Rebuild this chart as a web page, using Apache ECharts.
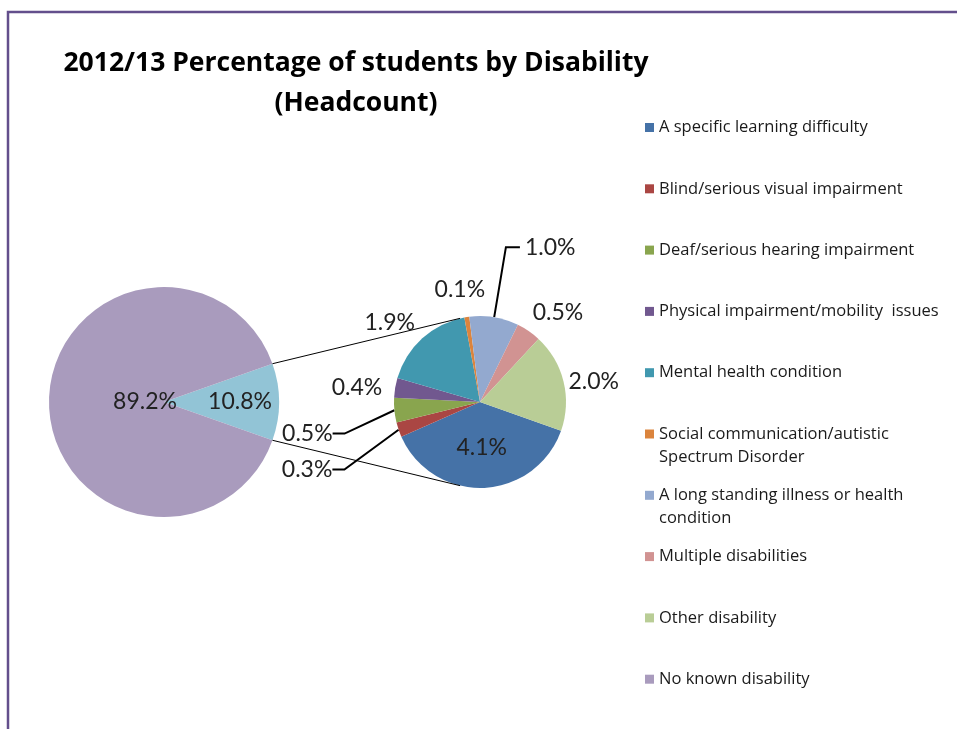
<!DOCTYPE html>
<html>
<head>
<meta charset="utf-8">
<script src="https://cdn.jsdelivr.net/npm/echarts@6/dist/echarts.min.js"></script>
<style>
  html, body { margin: 0; padding: 0; background: #ffffff; }
  #chart { width: 957px; height: 729px; }
</style>
</head>
<body>
<div id="chart"></div>
<script>
// ---- data ----
const titleLines = ['2012/13 Percentage of students by Disability', '(Headcount)'];
const categories = [
  'A specific learning difficulty',
  'Blind/serious visual impairment',
  'Deaf/serious hearing impairment',
  'Physical impairment/mobility  issues',
  'Mental health condition',
  'Social communication/autistic Spectrum Disorder',
  'A long standing illness or health condition',
  'Multiple disabilities',
  'Other disability'
];
const values = [4.1, 0.3, 0.5, 0.4, 1.9, 0.1, 1.0, 0.5, 2.0];
const noDisabilityName = 'No known disability';
const noDisabilityValue = 89.2;
const disabledTotalName = 'All disabilities';
const disabledTotalValue = 10.8;

// ---- styles ----
const colors = ['#4572A7', '#AA4643', '#89A54E', '#71588F', '#4198AF', '#DB843D', '#93A9CF', '#D19392', '#B9CD96'];
const noDisabilityColor = '#A99BBD';
const disabledTotalColor = '#92C4D6';
const legendWrap = {
  'Social communication/autistic Spectrum Disorder': 'Social communication/autistic\nSpectrum Disorder',
  'A long standing illness or health condition': 'A long standing illness or health\ncondition'
};
// per-slice label placement of the secondary pie (style only)
const secondLabelStyle = [
  { position: 'inside', padding: [20, 0, 0, 0] },
  { line: true, length: 52, length2: 12, dy: 23 },
  { line: true, length: 45, length2: 12, dy: 19 },
  { line: false, length: 0, length2: 8 },
  { line: false, length: 20.6, length2: -11.5 },
  { line: false, length: 27.4, length2: -27.5 },
  { line: true, length: 71, length2: 14 },
  { line: false, length: 23, length2: -14 },
  { line: false, length: 0, length2: 0 }
];

const FONT = 'Lato, "Open Sans", sans-serif';
const LEGEND_FONT = '"Open Sans", Lato, sans-serif';
const TITLE_FONT = '"Open Sans", Lato, sans-serif';
const cx1 = 164, cy1 = 402, r1 = 115;
const cx2 = 480, cy2 = 402, r2 = 86;
const startAngle2 = -19.5;
const connectorAngle = 103.4;

const pct = v => v.toFixed(1) + '%';

const secondData = categories.map((name, i) => {
  const s = secondLabelStyle[i];
  const item = { name: name, value: values[i], itemStyle: { color: colors[i] } };
  if (s.position === 'inside') {
    item.label = { position: 'inside', padding: s.padding };
    item.labelLine = { show: false };
  } else {
    item.label = { position: 'outside' };
    item.labelLine = { show: s.line, length: s.length, length2: s.length2 };
  }
  return item;
});

const firstData = [
  { name: disabledTotalName, value: disabledTotalValue, itemStyle: { color: disabledTotalColor },
    label: { position: 'inside', padding: [0, 0, 0, 31] } },
  { name: noDisabilityName, value: noDisabilityValue, itemStyle: { color: noDisabilityColor },
    label: { position: 'center', padding: [0, 38, 0, 0] } }
];

// legends: one per entry so that the spacing is even like the original
const legendNames = categories.concat([noDisabilityName]);
const legendTop0 = 127.5, legendStep = 61.3, lineH = 23;
// icon for two-line entries: square aligned with the first text line
const tallIcon = 'path://M0,0L9,0L9,9L0,9Z M0,32L0,32';
const legends = legendNames.map((name, i) => {
  const twoLines = !!legendWrap[name];
  return {
    data: [name],
    left: 645,
    top: legendTop0 + i * legendStep - lineH / 2,
    orient: 'vertical',
    padding: 0,
    itemWidth: 9,
    itemHeight: twoLines ? 32 : 9,
    itemGap: 0,
    icon: twoLines ? tallIcon : 'rect',
    selectedMode: false,
    formatter: n => legendWrap[n] || n,
    textStyle: { fontFamily: LEGEND_FONT, fontSize: 16.5, color: '#1a1a1a', lineHeight: lineH }
  };
});

// connector lines between the two pies
const half = disabledTotalValue / (disabledTotalValue + noDisabilityValue) * Math.PI;
const ca = connectorAngle * Math.PI / 180;
const p1u = [cx1 + r1 * Math.cos(half), cy1 - r1 * Math.sin(half)];
const p1d = [cx1 + r1 * Math.cos(half), cy1 + r1 * Math.sin(half)];
const p2u = [cx2 + r2 * Math.cos(ca), cy2 - r2 * Math.sin(ca)];
const p2d = [cx2 + r2 * Math.cos(ca), cy2 + r2 * Math.sin(ca)];

const chart = echarts.init(document.getElementById('chart'), null, { renderer: 'canvas' });
chart.setOption({
  backgroundColor: '#ffffff',
  animation: false,
  title: [
    { text: titleLines[0], left: 351, top: 45, textAlign: 'center',
      textStyle: { fontFamily: TITLE_FONT, fontSize: 26.5, fontWeight: 'bold', color: '#000' } },
    { text: titleLines[1], left: 351, top: 85, textAlign: 'center',
      textStyle: { fontFamily: TITLE_FONT, fontSize: 26.5, fontWeight: 'bold', color: '#000' } }
  ],
  legend: legends,
  graphic: [
    { type: 'rect', shape: { x: 8, y: 12, width: 1200, height: 1000 },
      style: { fill: 'none', stroke: '#634F8C', lineWidth: 2.5 }, silent: true },
    { type: 'line', z: 10, shape: { x1: p1u[0], y1: p1u[1], x2: p2u[0], y2: p2u[1] },
      style: { stroke: '#000', lineWidth: 1 }, silent: true },
    { type: 'line', z: 10, shape: { x1: p1d[0], y1: p1d[1], x2: p2d[0], y2: p2d[1] },
      style: { stroke: '#000', lineWidth: 1 }, silent: true }
  ],
  series: [
    {
      type: 'pie',
      center: [cx1, cy1],
      radius: r1,
      startAngle: disabledTotalValue / (disabledTotalValue + noDisabilityValue) * 180,
      clockwise: true,
      avoidLabelOverlap: false,
      silent: true,
      label: { fontFamily: FONT, fontSize: 23, color: '#222', formatter: p => pct(p.value) },
      labelLine: { show: false },
      data: firstData
    },
    {
      type: 'pie',
      center: [cx2, cy2],
      radius: r2,
      startAngle: startAngle2,
      clockwise: true,
      avoidLabelOverlap: false,
      silent: true,
      label: { fontFamily: FONT, fontSize: 23, color: '#222', formatter: p => pct(p.value),
               distanceToLabelLine: 5 },
      labelLine: { smooth: false, lineStyle: { color: '#000', width: 2 } },
      labelLayout: function (p) {
        const s = secondLabelStyle[p.dataIndex];
        if (s && s.dy) {
          return { y: p.labelRect.y + p.labelRect.height / 2 + s.dy };
        }
        return {};
      },
      data: secondData
    }
  ]
});
</script>
</body>
</html>
